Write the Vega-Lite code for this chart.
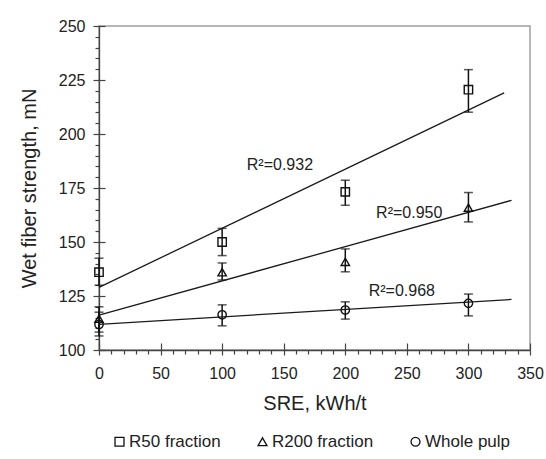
{
  "$schema": "https://vega.github.io/schema/vega-lite/v6.json",
  "width": 431,
  "height": 324,
  "autosize": "none",
  "padding": {"left": 99, "top": 26, "right": 16, "bottom": 109},
  "background": "white",
  "config": {
    "font": "Liberation Sans",
    "view": {"stroke": "#a0a0a0", "strokeWidth": 1.5},
    "axis": {
      "grid": false,
      "domainColor": "#444",
      "domainWidth": 1.3,
      "tickColor": "#444",
      "tickWidth": 1.2,
      "labelFont": "Liberation Sans",
      "labelFontSize": 16,
      "labelColor": "#222",
      "titleFont": "Liberation Sans",
      "titleFontSize": 20,
      "titleFontWeight": "normal",
      "titleColor": "#222"
    },
    "legend": {
      "orient": "none",
      "legendX": 12,
      "legendY": 407,
      "direction": "horizontal",
      "padding": 0,
      "columnPadding": 33,
      "labelFont": "Liberation Sans",
      "labelFontSize": 17,
      "labelColor": "#222",
      "labelOffset": 1,
      "symbolSize": 80,
      "symbolStrokeColor": "#111",
      "symbolStrokeWidth": 1.3,
      "title": null
    }
  },
  "datasets": {
    "pts": [
      {"series": "R50 fraction", "sre": 0, "mean": 136, "lo": 130, "hi": 142.5},
      {"series": "R50 fraction", "sre": 100, "mean": 150, "lo": 143.7, "hi": 156.3},
      {"series": "R50 fraction", "sre": 200, "mean": 173.2, "lo": 167, "hi": 178.6},
      {"series": "R50 fraction", "sre": 300, "mean": 220.5, "lo": 210.1, "hi": 229.8},
      {"series": "R200 fraction", "sre": 0, "mean": 114.5, "lo": 108.3, "hi": 120},
      {"series": "R200 fraction", "sre": 100, "mean": 136, "lo": 132.4, "hi": 140.3},
      {"series": "R200 fraction", "sre": 200, "mean": 140.8, "lo": 136.2, "hi": 146.8},
      {"series": "R200 fraction", "sre": 300, "mean": 165.9, "lo": 159.3, "hi": 172.9},
      {"series": "Whole pulp", "sre": 0, "mean": 111.8, "lo": 106.5, "hi": 117.5},
      {"series": "Whole pulp", "sre": 100, "mean": 116.3, "lo": 111.2, "hi": 120.9},
      {"series": "Whole pulp", "sre": 200, "mean": 118.5, "lo": 114.3, "hi": 122.3},
      {"series": "Whole pulp", "sre": 300, "mean": 121.6, "lo": 115.8, "hi": 125.9}
    ],
    "fits": [
      {"series": "R50 fraction", "sre": 0, "value": 129},
      {"series": "R50 fraction", "sre": 329, "value": 219},
      {"series": "R200 fraction", "sre": 0, "value": 116.1},
      {"series": "R200 fraction", "sre": 335, "value": 169.3},
      {"series": "Whole pulp", "sre": 0, "value": 111.9},
      {"series": "Whole pulp", "sre": 335, "value": 123.4}
    ],
    "labels": [
      {"label": "R²=0.932", "sre": 120, "value": 185.5},
      {"label": "R²=0.950", "sre": 225, "value": 163.4},
      {"label": "R²=0.968", "sre": 219, "value": 127.4}
    ]
  },
  "resolve": {"axis": {"x": "independent", "y": "independent"}},
  "layer": [
    {
      "data": {"name": "fits"},
      "mark": {"type": "line", "color": "#1a1a1a", "strokeWidth": 1.3},
      "encoding": {
        "x": {
          "field": "sre", "type": "quantitative",
          "scale": {"domain": [0, 350], "nice": false},
          "title": "SRE, kWh/t",
          "axis": {
            "orient": "bottom",
            "values": [0,10,20,30,40,50,60,70,80,90,100,110,120,130,140,150,160,170,180,190,200,210,220,230,240,250,260,270,280,290,300,310,320,330,340,350],
            "labelExpr": "datum.value % 50 === 0 ? datum.label : ''",
            "tickSize": {"condition": {"test": "datum.value % 50 === 0", "value": 5}, "value": 4},
            "labelPadding": 10,
            "titlePadding": 12,
            "labelFlush": false,
            "labelOverlap": false
          }
        },
        "y": {
          "field": "value", "type": "quantitative",
          "scale": {"domain": [100, 250], "nice": false, "zero": false},
          "title": "Wet fiber strength, mN",
          "axis": {
            "orient": "left",
            "values": [100,105,110,115,120,125,130,135,140,145,150,155,160,165,170,175,180,185,190,195,200,205,210,215,220,225,230,235,240,245,250],
            "labelExpr": "datum.value % 25 === 0 ? datum.label : ''",
            "tickSize": {"condition": {"test": "datum.value % 25 === 0", "value": 6}, "value": 4},
            "labelPadding": 8,
            "titlePadding": 19,
            "labelFlush": false,
            "labelOverlap": false
          }
        },
        "detail": {"field": "series"}
      }
    },
    {
      "data": {"name": "pts"},
      "mark": {"type": "rule", "color": "#111", "strokeWidth": 1.5},
      "encoding": {
        "x": {"field": "sre", "type": "quantitative", "axis": null},
        "y": {"field": "lo", "type": "quantitative", "axis": null},
        "y2": {"field": "hi"}
      }
    },
    {
      "data": {"name": "pts"},
      "mark": {"type": "tick", "orient": "horizontal", "color": "#111", "size": 9, "thickness": 1.5},
      "encoding": {
        "x": {"field": "sre", "type": "quantitative", "axis": null},
        "y": {"field": "lo", "type": "quantitative", "axis": null}
      }
    },
    {
      "data": {"name": "pts"},
      "mark": {"type": "tick", "orient": "horizontal", "color": "#111", "size": 9, "thickness": 1.5},
      "encoding": {
        "x": {"field": "sre", "type": "quantitative", "axis": null},
        "y": {"field": "hi", "type": "quantitative", "axis": null}
      }
    },
    {
      "data": {"name": "pts"},
      "mark": {"type": "point", "filled": false, "strokeWidth": 1.4, "size": 70, "color": "#111", "opacity": 1},
      "encoding": {
        "x": {"field": "sre", "type": "quantitative", "axis": null},
        "y": {"field": "mean", "type": "quantitative", "axis": null},
        "shape": {
          "field": "series", "type": "nominal",
          "scale": {"domain": ["R50 fraction", "R200 fraction", "Whole pulp"], "range": ["square", "triangle-up", "circle"]}
        }
      }
    },
    {
      "data": {"name": "labels"},
      "mark": {"type": "text", "align": "left", "baseline": "middle", "fontSize": 16, "font": "Liberation Sans", "color": "#222"},
      "encoding": {
        "x": {
          "field": "sre", "type": "quantitative", "title": null,
          "axis": {"orient": "bottom", "values": [0,50,100,150,200,250,300,350], "labels": false, "domain": false, "tickSize": -7, "title": null}
        },
        "y": {
          "field": "value", "type": "quantitative", "title": null,
          "axis": {"orient": "left", "values": [100,125,150,175,200,225,250], "labels": false, "domain": false, "tickSize": -6, "title": null}
        },
        "text": {"field": "label"}
      }
    }
  ]
}
